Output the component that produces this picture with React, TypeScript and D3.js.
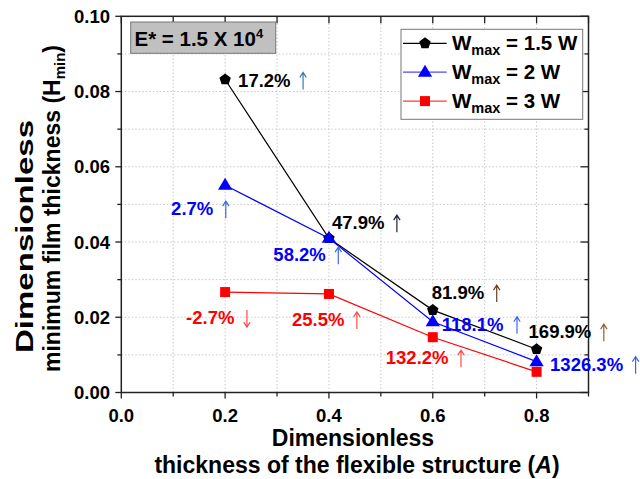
import React from "react";
import * as d3 from "d3";

const thicknessA = [0.2, 0.4, 0.6, 0.8];
const hmin15W = [0.0832, 0.041, 0.0219, 0.0115];
const hmin2W = [0.0551, 0.041, 0.0188, 0.0082];
const hmin3W = [0.0267, 0.0262, 0.0147, 0.0055];

const pct15W = ["17.2%", "47.9%", "81.9%", "169.9%"];
const pct2W = ["2.7%", "58.2%", "118.1%", "1326.3%"];
const pct3W = ["-2.7%", "25.5%", "132.2%"];
const dir15W = ["up", "up", "up", "up"];
const dir2W = ["up", "up", "up", "up"];
const dir3W = ["down", "up", "up"];

const xTicks = [0, 0.2, 0.4, 0.6, 0.8];
const yTicks = [0, 0.02, 0.04, 0.06, 0.08, 0.1];

const FONT = "'Liberation Sans', Arial, sans-serif";

const W = 640, H = 479;
const x = d3.scaleLinear().domain([0, 0.9]).range([121.3, 588.5]);
const y = d3.scaleLinear().domain([0, 0.1]).range([392.5, 16.3]);

// label placement (px from point): [dx, dy]
const LFS = 18.5;
const off15 = [[13, 7], [3, -9], [-1, -11], [-8, -11]];
const off2 = [[-54, 30], [-55.6, 23], [9, 9], [13.5, 9]];
const off3 = [[-39, 32], [-37, 32], [-47, 27]];
const arrow15 = ["#3a78b8", "#1c2040", "#6e3a22", "#9a6030"];
const arrow2 = ["#3a66ee", "#3a66ee", "#3a66ee", "#3a66ee"];
const arrow3 = ["#ff4a4a", "#ff4a4a", "#ff4a4a"];

const charW: Record<string, number> = { ".": 0.278, "%": 0.889, "-": 0.333 };
function textWidth(s: string, fs: number) {
  let w = 0;
  for (const c of s) w += charW[c] ?? 0.556;
  return w * fs;
}

function pentagon(cx: number, cy: number, r: number) {
  const pts: string[] = [];
  for (let i = 0; i < 5; i++) {
    const a = -Math.PI / 2 + (i * 2 * Math.PI) / 5;
    pts.push(`${cx + r * Math.cos(a)},${cy + r * Math.sin(a)}`);
  }
  return pts.join(" ");
}
function triangle(cx: number, cy: number, r: number) {
  return `${cx},${cy - r} ${cx + r * 0.95},${cy + r * 0.6} ${cx - r * 0.95},${cy + r * 0.6}`;
}

const Marker = ({ kind, cx, cy }: { kind: string; cx: number; cy: number }) => {
  if (kind === "p") return <polygon points={pentagon(cx, cy, 6)} fill="#000" />;
  if (kind === "t") return <polygon points={triangle(cx, cy, 7.5)} fill="#0000ff" />;
  return <rect x={cx - 5} y={cy - 5} width={10} height={10} fill="#ff0000" />;
};

const Arrow = ({ ax, base, fs, dir, color }: { ax: number; base: number; fs: number; dir: string; color: string }) => {
  const top = base - fs * 0.76;
  const bot = base + 3;
  const hw = 3.2, hh = 5;
  const d =
    dir === "up"
      ? `M${ax},${bot}V${top}M${ax - hw},${top + hh}L${ax},${top}L${ax + hw},${top + hh}`
      : `M${ax},${top}V${bot}M${ax - hw},${bot - hh}L${ax},${bot}L${ax + hw},${bot - hh}`;
  return <path d={d} fill="none" stroke={color} strokeWidth={1.2} />;
};

const PctLabel = ({ px, py, off, text, color, dir, acolor }: any) => {
  const tx = px + off[0];
  const ty = py + off[1];
  const ax = tx + textWidth(text, LFS) + 12.5;
  return (
    <g>
      <text x={tx} y={ty} fontSize={LFS} fontWeight="bold" fill={color}>{text}</text>
      <Arrow ax={ax} base={ty} fs={LFS} dir={dir} color={acolor} />
    </g>
  );
};

export default function App() {
  const line = d3
    .line<number>()
    .x((_, i) => x(thicknessA[i]))
    .y((d) => y(d));

  const series = [
    { vals: hmin15W, color: "#000000", kind: "p", name: "1.5 W", legColor: "#000000" },
    { vals: hmin2W, color: "#0000ff", kind: "t", name: "2 W", legColor: "#4a4aff" },
    { vals: hmin3W, color: "#ff0000", kind: "s", name: "3 W", legColor: "#ff3a3a" },
  ];

  const xMinor = d3.range(0, 0.9001, 0.1);
  const yMinor = d3.range(0, 0.1001, 0.01);
  const [x0, x1] = x.range();
  const [y0, y1] = y.range();

  return (
    <svg width={W} height={H} style={{ position: "absolute", left: 0, top: 0, background: "#fff" }} fontFamily={FONT}>
      {xMinor.slice(1, -1).map((t, i) => (
        <line key={"gx" + i} x1={x(t)} x2={x(t)} y1={y0} y2={y1} stroke="#c8c8c8" strokeWidth={1} strokeDasharray="1.5,2" />
      ))}
      {yMinor.slice(1, -1).map((t, i) => (
        <line key={"gy" + i} x1={x0} x2={x1} y1={y(t)} y2={y(t)} stroke="#c8c8c8" strokeWidth={1} strokeDasharray="1.5,2" />
      ))}

      <rect x={x0} y={y1} width={x1 - x0} height={y0 - y1} fill="none" stroke="#222" strokeWidth={1.5} />

      {xMinor.map((t, i) => {
        const major = i % 2 === 0;
        return <line key={"bt" + i} x1={x(t)} x2={x(t)} y1={y0} y2={y0 + (major ? 6 : 4)} stroke="#222" strokeWidth={1.3} />;
      })}
      {xMinor.map((t, i) => (
        <line key={"tt" + i} x1={x(t)} x2={x(t)} y1={y1} y2={y1 + 7} stroke="#222" strokeWidth={1.3} />
      ))}
      {yMinor.map((t, i) => {
        const major = i % 2 === 0;
        return <line key={"lt" + i} x1={x0} x2={x0 - (major ? 6 : 4)} y1={y(t)} y2={y(t)} stroke="#222" strokeWidth={1.3} />;
      })}
      {yMinor.map((t, i) => {
        const major = i % 2 === 0;
        return <line key={"rt" + i} x1={x1} x2={x1 - (major ? 8 : 4)} y1={y(t)} y2={y(t)} stroke="#222" strokeWidth={1.3} />;
      })}

      {xTicks.map((t) => (
        <text key={"xl" + t} x={x(t)} y={422} textAnchor="middle" fontSize={18.5} fontWeight="bold">
          {t.toFixed(1)}
        </text>
      ))}
      {yTicks.map((t) => (
        <text key={"yl" + t} x={110} y={y(t) + 6.5} textAnchor="end" fontSize={18.5} fontWeight="bold">
          {t.toFixed(2)}
        </text>
      ))}

      <text x={353} y={446} textAnchor="middle" fontSize={23} fontWeight="bold">Dimensionless</text>
      <text x={357} y={473} textAnchor="middle" fontSize={23} fontWeight="bold">
        thickness of the flexible structure (<tspan fontStyle="italic">A</tspan>)
      </text>
      <g transform="translate(33.3,236.5) rotate(-90)">
        <text x={0} y={0} textAnchor="middle" fontSize={23} fontWeight="bold" textLength={233} lengthAdjust="spacingAndGlyphs">Dimensionless</text>
      </g>
      <g transform="translate(60,208.5) rotate(-90)">
        <text x={0} y={0} textAnchor="middle" fontSize={23} fontWeight="bold">
          minimum film thickness (H<tspan fontSize={15} dy={5}>min</tspan><tspan dy={-5}>)</tspan>
        </text>
      </g>

      {series.map((s) => (
        <g key={s.name}>
          <path d={line(s.vals) || ""} fill="none" stroke={s.color} strokeWidth={1.2} />
          {s.vals.map((v, i) => (
            <Marker key={i} kind={s.kind} cx={x(thicknessA[i])} cy={y(v)} />
          ))}
        </g>
      ))}

      {pct15W.map((p, i) => (
        <PctLabel key={"a" + i} px={x(thicknessA[i])} py={y(hmin15W[i])} off={off15[i]} text={p} color="#000" dir={dir15W[i]} acolor={arrow15[i]} />
      ))}
      {pct2W.map((p, i) => (
        <PctLabel key={"b" + i} px={x(thicknessA[i])} py={y(hmin2W[i])} off={off2[i]} text={p} color="#0000ff" dir={dir2W[i]} acolor={arrow2[i]} />
      ))}
      {pct3W.map((p, i) => (
        <PctLabel key={"c" + i} px={x(thicknessA[i])} py={y(hmin3W[i])} off={off3[i]} text={p} color="#ff0000" dir={dir3W[i]} acolor={arrow3[i]} />
      ))}

      <rect x={130.7} y={22} width={145} height={31.3} fill="#c0c0c0" stroke="#777" strokeWidth={1} />
      <text x={134.5} y={45.5} fontSize={20.5} fontWeight="bold">
        E* = 1.5 X 10<tspan fontSize={13} dy={-8}>4</tspan>
      </text>

      <rect x={401} y={29.3} width={181.7} height={90} fill="#fff" stroke="#777" strokeWidth={1} />
      {series.map((s, i) => {
        const ly = 43.3 + i * 28.9;
        return (
          <g key={"lg" + i}>
            <line x1={403} x2={446.7} y1={ly} y2={ly} stroke={s.legColor} strokeWidth={1.2} />
            <Marker kind={s.kind} cx={425} cy={ly} />
            <text x={452} y={ly + 7} fontSize={20.5} fontWeight="bold">
              W<tspan fontSize={14.5} dy={5}>max</tspan>
              <tspan dy={-5}> = {s.name}</tspan>
            </text>
          </g>
        );
      })}
    </svg>
  );
}
